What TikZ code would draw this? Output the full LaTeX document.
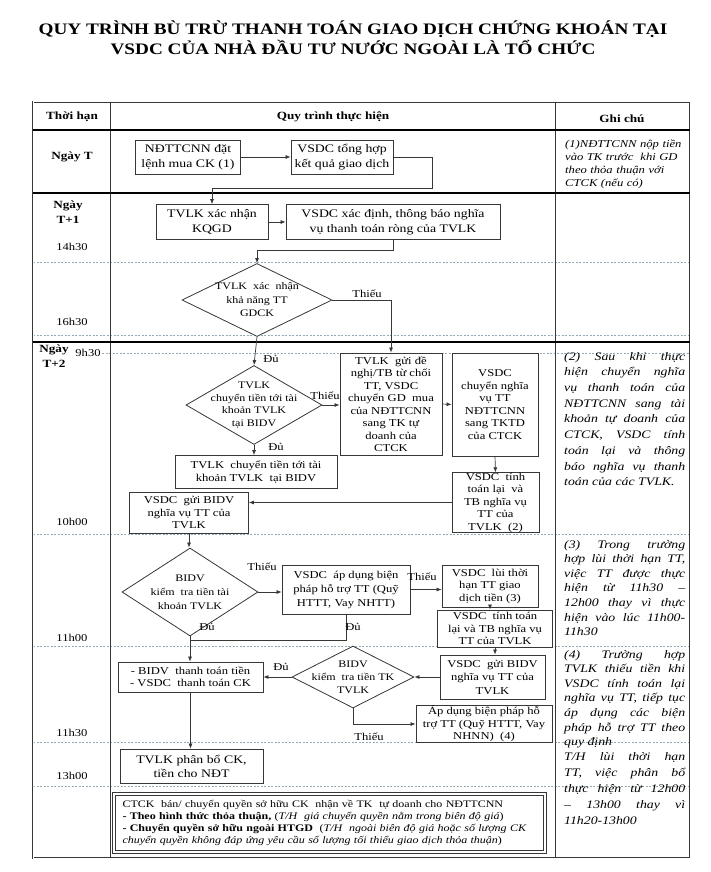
\documentclass[tikz,border=0pt]{standalone}
\usepackage{fontspec}
\setmainfont{Liberation Serif}[FakeStretch=1.2]
\usetikzlibrary{shapes.geometric,arrows.meta}
\definecolor{lc}{RGB}{55,55,55}
\definecolor{dc}{RGB}{150,170,180}
\begin{document}
\begin{tikzpicture}[x=1pt,y=-1pt,
  box/.style={draw=lc, line width=0.8pt, fill=white, align=center, inner sep=0pt, font=\fontsize{10.5}{12.5}\selectfont},
  topbox/.style={box, font=\fontsize{11.5}{14.5}\selectfont},
  dia/.style={draw=lc, line width=0.8pt, fill=white, diamond, inner sep=0pt},
  dtext/.style={align=center, inner sep=0pt, font=\fontsize{10}{12.5}\selectfont},
  lbl/.style={inner sep=0pt, align=center, font=\fontsize{10.5}{12}\selectfont},
  blbl/.style={inner sep=0pt, align=center, font=\fontsize{11}{15}\bfseries\selectfont},
  note/.style={align=justify, text width=121pt, inner sep=0pt, anchor=north west, font=\fontsize{11.5}{15.7}\itshape\selectfont},
  conn/.style={draw=lc, line width=0.7pt},
  arr/.style={conn, -{Latex[length=5pt,width=4pt]}},
  dotline/.style={draw=dc, line width=0.6pt, dash pattern=on 2pt off 1.5pt},
  tbl/.style={draw=lc, line width=0.8pt},
  heavy/.style={draw=black, line width=2pt}]
\useasboundingbox (0,0) rectangle (711,872);
% title
\node[font=\fontsize{16}{20}\bfseries\selectfont, align=center, inner sep=0pt] (title) at (353,38)
  {QUY TRÌNH BÙ TRỪ THANH TOÁN GIAO DỊCH CHỨNG KHOÁN TẠI\\VSDC CỦA NHÀ ĐẦU TƯ NƯỚC NGOÀI LÀ TỔ CHỨC};
% table
\draw[dotline] (33,262) -- (690,262);
\draw[dotline] (33,335) -- (690,335);
\draw[dotline] (102,353) -- (690,353);
\draw[dotline] (33,534) -- (690,534);
\draw[dotline] (33,646) -- (690,646);
\draw[dotline] (33,742) -- (690,742);
\draw[dotline] (33,786) -- (690,786);
\draw[tbl, double=white, double distance=1pt, line width=0.5pt] (33,102) rectangle (690,858);
\draw[tbl] (110,102) -- (110,858);
\draw[tbl] (555,102) -- (555,858);
\draw[heavy] (33,130) -- (690,130);
\draw[heavy] (33,193) -- (690,193);
\draw[heavy] (33,342) -- (690,342);
% headers
\node[blbl] (hThoi) at (72,117) {Thời hạn};
\node[blbl] (hQuy) at (333,117) {Quy trình thực hiện};
\node[blbl] (hGhi) at (622,119) {Ghi chú};
% left labels
\node[blbl] (lT) at (72,157) {Ngày T};
\node[blbl] (lT1) at (68,212) {Ngày\\T+1};
\node[lbl] (t1430) at (72,247) {14h30};
\node[lbl] (t1630) at (72,322) {16h30};
\node[blbl] (lT2) at (54,356) {Ngày\\T+2};
\node[lbl] (t0930) at (88,353) {9h30};
\node[lbl] (t1000) at (72,522) {10h00};
\node[lbl] (t1100) at (72,638) {11h00};
\node[lbl] (t1130) at (72,733) {11h30};
\node[lbl] (t1300) at (72,776) {13h00};
% flow nodes
\node[topbox, minimum width=105pt, minimum height=34pt] (b1) at (188,157) {NĐTTCNN đặt\\lệnh mua CK (1)};
\node[topbox, minimum width=102pt, minimum height=34pt] (b2) at (342,157) {VSDC tổng hợp\\kết quả giao dịch};
\node[topbox, minimum width=112pt, minimum height=35pt] (b3) at (212,222) {TVLK xác nhận\\KQGD};
\node[topbox, minimum width=214pt, minimum height=35pt] (b4) at (393,222) {VSDC xác định, thông báo nghĩa\\vụ thanh toán ròng của TVLK};
\node[dia, minimum width=150pt, minimum height=73pt] (d1) at (257,300) {};
\node[dtext, font=\fontsize{10}{13.5}\selectfont] (d1t) at (d1.center) {TVLK \ xác \ nhận\\khả năng TT\\GDCK};
\node[dia, minimum width=136pt, minimum height=79pt] (d2) at (254,405) {};
\node[dtext] (d2t) at (d2.center) {TVLK\\chuyển tiền tới tài\\khoản TVLK\\tại BIDV};
\node[box, minimum width=102pt, minimum height=102pt] (b5) at (391,404) {TVLK \ gửi đề\\nghị/TB từ chối\\TT, VSDC\\chuyển GD \ mua\\của NĐTTCNN\\sang TK tự\\doanh của\\CTCK};
\node[box, minimum width=86pt, minimum height=103pt] (b6) at (495,404.5) {VSDC\\chuyển nghĩa\\vụ TT\\NĐTTCNN\\sang TKTD\\của CTCK};
\node[box, minimum width=87pt, minimum height=59pt] (b7) at (495.5,502.5) {VSDC \ tính\\toán lại \ và\\TB nghĩa vụ\\TT của\\TVLK \ (2)};
\node[box, minimum width=162pt, minimum height=33pt] (b8) at (256,472) {TVLK \ chuyển tiền tới tài\\khoản TVLK \ tại BIDV};
\node[box, minimum width=119pt, minimum height=41pt] (b9) at (189,512.5) {VSDC \ gửi BIDV\\nghĩa vụ TT của\\TVLK};
\node[dia, minimum width=136pt, minimum height=88pt] (d3) at (190,592) {};
\node[dtext, font=\fontsize{10}{14}\selectfont] (d3t) at (d3.center) {BIDV\\kiểm \ tra tiền tài\\khoản TVLK};
\node[box, minimum width=128pt, minimum height=49pt, font=\fontsize{10.5}{14}\selectfont] (b10) at (346,589.5) {VSDC \ áp dụng biện\\pháp hỗ trợ TT (Quỹ\\HTTT, Vay NHTT)};
\node[box, minimum width=96pt, minimum height=42pt] (b11) at (490,586) {VSDC \ lùi thời\\hạn TT giao\\dịch tiền (3)};
\node[box, minimum width=115pt, minimum height=37pt] (b12) at (495,628.5) {VSDC \ tính toán\\lại và TB nghĩa vụ\\TT của TVLK};
\node[box, minimum width=145pt, minimum height=30pt] (b13) at (190.5,677) {- BIDV \ thanh toán tiền\\- VSDC \ thanh toán CK};
\node[dia, minimum width=122pt, minimum height=62pt] (d4) at (353,677) {};
\node[dtext, font=\fontsize{10}{13}\selectfont] (d4t) at (d4.center) {BIDV\\kiểm \ tra tiền TK\\TVLK};
\node[box, minimum width=105pt, minimum height=44pt, font=\fontsize{10.5}{13.5}\selectfont] (b14) at (492.5,677) {VSDC \ gửi BIDV\\nghĩa vụ TT của\\TVLK};
\node[box, minimum width=136pt, minimum height=34pt] (b15) at (484,724) {Áp dụng biện pháp hỗ\\trợ TT (Quỹ HTTT, Vay\\NHNN) \ (4)};
\node[topbox, minimum width=143pt, minimum height=34pt, font=\fontsize{11.5}{14}\selectfont] (b16) at (191.5,766) {TVLK phân bổ CK,\\tiền cho NĐT};
\node[box, minimum width=428pt, minimum height=55pt, align=left, text width=414pt, font=\fontsize{10}{12}\selectfont] (b17) at (329.5,823)
  {CTCK \ bán/ chuyển quyền sở hữu CK \ nhận về TK \ tự doanh cho NĐTTCNN\\
   \textbf{- Theo hình thức thỏa thuận,} (\textit{T/H \ giá chuyển quyền nằm trong biên độ giá})\\
   \textbf{- Chuyển quyền sở hữu ngoài HTGD} \ (\textit{T/H \ ngoài biên độ giá hoặc số lượng CK}\\
   \textit{chuyển quyền không đáp ứng yêu cầu số lượng tối thiểu giao dịch thỏa thuận})};
\draw[conn, line width=0.8pt] ([shift={(-2.5,-2.5)}]b17.north west) rectangle ([shift={(2.5,2.5)}]b17.south east);
\coordinate (j0) at (432,188);
\coordinate (j1) at (190,640);
% connectors
\draw[arr] (b1.east) -- (b2.west);
\draw[arr] (b2.east) -| (j0) -| (b3.north);
\draw[arr] (b3.east) -- (b4.west);
\draw[arr] (b4.south) -- ++(0,10) -| (d1.north);
\draw[arr] (d1.east) -| (b5.north);
\node[lbl] (lbThieu1) at (367,294) {Thiếu};
\draw[arr] (d1.south) -- (d2.north);
\node[lbl] (lbDu1) at (271,359) {Đủ};
\draw[arr] (d2.east) -- (d2.east -| b5.west);
\node[lbl] (lbThieu2) at (325,396) {Thiếu};
\draw[arr] (b5.east) -- (b6.west);
\draw[arr] (b6.south) -- (b7.north);
\draw[arr] (d2.south) -- (d2.south |- b8.north);
\node[lbl] (lbDu2) at (276,447) {Đủ};
\draw[arr] (b7.west) -- (b7.west -| b9.east);
\draw[arr] (b9.south) -- (b9.south |- d3.north);
\draw[arr] (d3.east) -- (d3.east -| b10.west);
\node[lbl] (lbThieu3) at (262,567) {Thiếu};
\draw[arr] (b10.east) -- (b10.east -| b11.west);
\node[lbl] (lbThieu4) at (422,577) {Thiếu};
\draw[arr] (b11.south) -- (b11.south |- b12.north);
\draw[conn] (b10.south) |- (j1);
\node[lbl] (lbDu3) at (207,627) {Đủ};
\node[lbl] (lbDu4) at (353,627) {Đủ};
\draw[arr] (d3.south) -- (d3.south |- b13.north);
\draw[arr] (b12.south) -- (b12.south |- b14.north);
\draw[arr] (b14.west) -- (d4.east);
\draw[arr] (d4.west) -- (b13.east);
\node[lbl] (lbDu5) at (281,667) {Đủ};
\draw[arr] (d4.south) |- (b15.west);
\node[lbl] (lbThieu5) at (369,737) {Thiếu};
\draw[arr] (b13.south) -- (b13.south |- b16.north);
% notes
\node[note, align=left, font=\fontsize{10.5}{13}\itshape\selectfont] (n1) at (565,140) {(1)NĐTTCNN nộp tiền\\vào TK trước \ khi GD\\theo thỏa thuận với\\CTCK (nếu có)};
\node[note] (n2) at (564,352) {(2) Sau khi thực\linebreak hiện chuyển nghĩa\linebreak vụ thanh toán của\linebreak NĐTTCNN sang tài\linebreak khoản tự doanh của\linebreak CTCK, VSDC tính\linebreak toán lại và thông\linebreak báo nghĩa vụ thanh\linebreak toán của các TVLK.};
\node[note, font=\fontsize{11.5}{14.6}\itshape\selectfont] (n3) at (564,540) {(3) Trong trường\linebreak hợp lùi thời hạn TT,\linebreak việc TT được thực\linebreak hiện từ 11h30 –\linebreak 12h00 thay vì thực\linebreak hiện vào lúc 11h00-\linebreak 11h30};
\node[note, font=\fontsize{11.5}{14.6}\itshape\selectfont] (n4) at (564,650) {(4) Trường hợp\linebreak TVLK thiếu tiền khi\linebreak VSDC tính toán lại\linebreak nghĩa vụ TT, tiếp tục\linebreak áp dụng các biện\linebreak pháp hỗ trợ TT theo\linebreak quy định};
\node[note, font=\fontsize{11.5}{16}\itshape\selectfont] (n5) at (564,752) {T/H lùi thời hạn\linebreak TT, việc phân bổ\linebreak thực hiện từ 12h00\linebreak – 13h00 thay vì\linebreak 11h20-13h00};
\end{tikzpicture}
\end{document}
